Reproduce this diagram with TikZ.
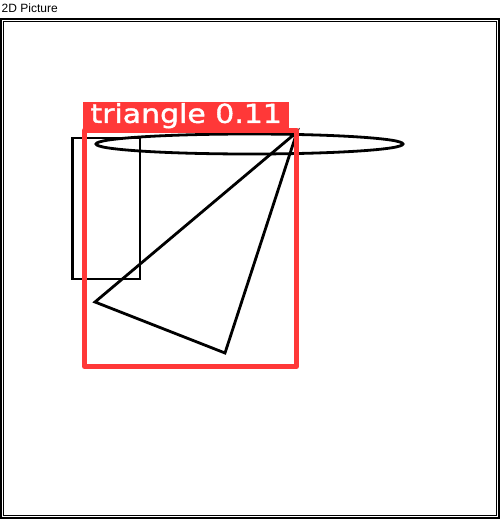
\documentclass[tikz,border=0pt]{standalone}
\usepackage{fontspec}
\setmainfont{Liberation Sans}
\newfontfamily\labelfont[FakeStretch=1.15, FakeBold=1.5]{DejaVu Sans}
\definecolor{detred}{HTML}{FF3838}

\begin{document}
\begin{tikzpicture}[x=1pt, y=-1pt,
  winframe/.style={draw=black, line width=1.2pt},
  outline/.style={draw=black, line width=2.8pt},
  detbox/.style={draw=detred, line width=5pt, line join=round},
  detlabel/.style={fill=detred, text=white, inner sep=0pt,
    minimum width=206pt, minimum height=28pt,
    font=\labelfont\fontsize{26}{26}\selectfont}]
\useasboundingbox[fill=white] (0,0) rectangle (500,519);
\node[anchor=base west, inner sep=0pt, font=\fontsize{12}{13}\selectfont]
  (title) at (1.5,13) {2D Picture};
% window frame
\draw[winframe] (1,19) rectangle (499,518);
\draw[winframe] (3.5,21.5) rectangle (496.5,515.5);
% drawn shapes
\draw[outline] (72.5,138) rectangle (140,279);
\draw[outline] (249.5,144) ellipse [x radius=153.5, y radius=10];
\coordinate (ta) at (297,132);
\coordinate (tb) at (95,302);
\coordinate (tc) at (225,353);
\draw[outline] (ta) -- (tb) -- (tc) -- cycle;
% detection
\draw[detbox] (84.5,130) rectangle (296.5,366.5);
\node[detlabel, anchor=north west] (lbl) at (83,101.5) {triangle 0.11};
\end{tikzpicture}
\end{document}
